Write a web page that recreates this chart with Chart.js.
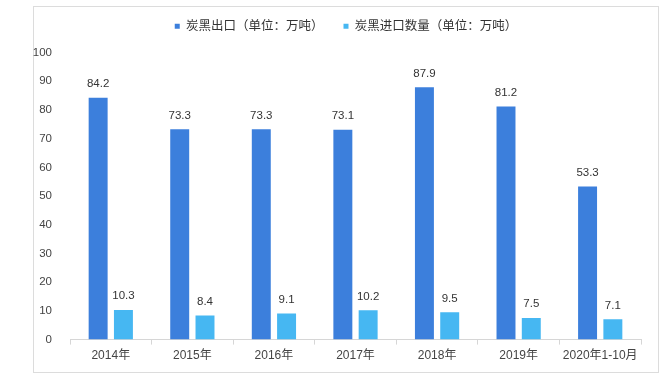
<!DOCTYPE html>
<html lang="zh">
<head>
    <meta charset="UTF-8" />
    <title>炭黑进出口</title>
    <script src="https://cdn.jsdelivr.net/npm/chart.js"></script>
    <style>
        body {
            margin: 0;
            background: #fff;
        }

        .wrap {
            position: relative;
            width: 662px;
            height: 377px;
        }

        .frame {
            position: absolute;
            left: 33px;
            top: 6px;
            width: 624px;
            height: 365px;
            border: 1px solid #dcdcdc;
        }

        canvas {
            position: absolute;
            left: 0;
            top: 0;
        }
    </style>
</head>
<body>

<div class="wrap">
    <div class="frame"></div>
    <canvas id="chart" width="662" height="377"></canvas>
</div>

<script>
    const categories = ['2014年', '2015年', '2016年', '2017年', '2018年', '2019年', '2020年1-10月'];
    const exportValues = [84.2, 73.3, 73.3, 73.1, 87.9, 81.2, 53.3];
    const importValues = [10.3, 8.4, 9.1, 10.2, 9.5, 7.5, 7.1];
    const yTicks = [0, 10, 20, 30, 40, 50, 60, 70, 80, 90, 100];

    const fontFamily = '"Liberation Sans", "Noto Sans CJK SC", sans-serif';

    // étiquettes de valeur au-dessus des barres
    const valueLabels = {
        id: 'valueLabels',
        afterDatasetsDraw(chart) {
            const ctx = chart.ctx;
            ctx.save();
            ctx.fillStyle = '#333';
            ctx.font = '11.5px ' + fontFamily;
            ctx.textAlign = 'center';
            ctx.textBaseline = 'bottom';
            chart.data.datasets.forEach((ds, i) => {
                chart.getDatasetMeta(i).data.forEach((bar, j) => {
                    ctx.fillText(ds.data[j].toFixed(1), bar.x, bar.y - 8);
                });
            });
            ctx.restore();
        }
    };

    // un peu d'espace sous la légende
    const legendSpacer = {
        id: 'legendSpacer',
        beforeInit(chart) {
            const fit = chart.legend.fit;
            chart.legend.fit = function () {
                fit.bind(chart.legend)();
                this.height += 10;
            };
        }
    };

    new Chart(document.getElementById('chart'), {
        type: 'bar',
        data: {
            labels: categories,
            datasets: [
                {
                    label: '炭黑出口（单位：万吨）',
                    data: exportValues,
                    backgroundColor: '#3c7fdc'
                },
                {
                    label: '炭黑进口数量（单位：万吨）',
                    data: importValues,
                    backgroundColor: '#46b7f2'
                }
            ]
        },
        options: {
            responsive: false,
            animation: false,
            categoryPercentage: 0.62,
            barPercentage: 0.75,
            layout: {
                padding: { left: 51, right: 21, top: 0, bottom: 10 }
            },
            plugins: {
                legend: {
                    position: 'top',
                    labels: {
                        boxWidth: 5,
                        boxHeight: 5,
                        padding: 20,
                        color: '#333',
                        font: { size: 12.5, family: fontFamily }
                    }
                },
                tooltip: { enabled: false }
            },
            scales: {
                x: {
                    grid: {
                        display: true,
                        drawOnChartArea: false,
                        offset: true,
                        tickLength: 5,
                        color: '#d6d6d6'
                    },
                    border: { display: true, color: '#d6d6d6' },
                    ticks: {
                        color: '#444',
                        padding: 4,
                        font: { size: 12, family: fontFamily }
                    }
                },
                y: {
                    min: 0,
                    max: 100,
                    afterFit(scale) {
                        scale.width = 19;
                        // les libellés dépassent à gauche, pas de découpe
                        scale._computeLabelArea = () => null;
                    },
                    afterBuildTicks(scale) { scale.ticks = yTicks.map(v => ({ value: v })); },
                    grid: { display: false },
                    border: { display: false },
                    ticks: {
                        color: '#444',
                        padding: 10,
                        font: { size: 11.5, family: fontFamily }
                    }
                }
            }
        },
        plugins: [valueLabels, legendSpacer]
    });
</script>

</body>
</html>
